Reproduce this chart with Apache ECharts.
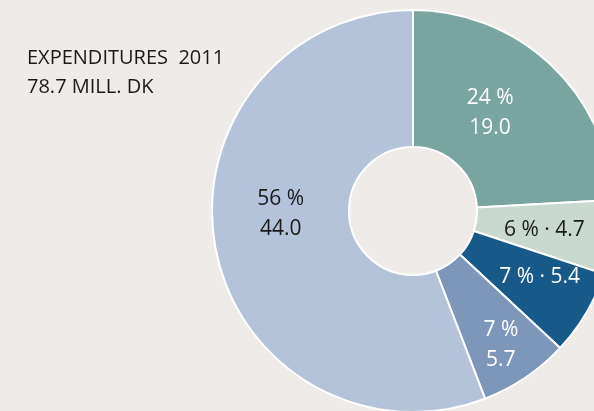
<!DOCTYPE html>
<html>
<head>
<meta charset="utf-8">
<script src="https://cdn.jsdelivr.net/npm/echarts@6/dist/echarts.min.js"></script>
<style>
  html, body { margin: 0; padding: 0; background: #eeebe8; }
  #chart { width: 594px; height: 411px; }
</style>
</head>
<body>
<div id="chart"></div>
<script>
// data
const titleLines = ['EXPENDITURES  2011', '78.7 MILL. DK'];
const values = [19.0, 4.7, 5.4, 5.7, 44.0];
const percents = [24, 6, 7, 7, 56];
const colors = ['#78a5a0', '#cad9cf', '#175988', '#7d97bb', '#b4c3d9'];
const labelColors = ['#fff', '#1a1a1a', '#fff', '#fff', '#1a1a1a'];
const oneLine = [false, true, true, false, false];
// nudges for the inside labels
const labelNudge = [[-16, 0], [-3, 1], [10, -3], [12, 22], [1, -22]];

const myChart = echarts.init(document.getElementById('chart'));

const pieData = values.map((v, i) => ({
  value: v,
  itemStyle: { color: colors[i] },
  label: {
    color: labelColors[i],
    formatter: oneLine[i] ? percents[i] + ' % · ' + v.toFixed(1) : percents[i] + ' %\n' + v.toFixed(1)
  }
}));

const option = {
  backgroundColor: '#eeebe8',
  animation: false,
  title: {
    text: titleLines.join('\n'),
    left: 22,
    top: 39,
    textStyle: {
      fontFamily: 'Open Sans',
      fontWeight: 'normal',
      fontSize: 20,
      lineHeight: 29,
      color: '#1a1a1a'
    }
  },
  series: [
    {
      type: 'pie',
      center: [413, 211],
      radius: [64, 201],
      startAngle: 90,
      clockwise: true,
      itemStyle: { borderColor: '#fff', borderWidth: 2 },
      label: {
        show: true,
        position: 'inside',
        fontFamily: 'Open Sans',
        fontSize: 21,
        lineHeight: 30
      },
      labelLayout: (p) => ({ dx: labelNudge[p.dataIndex][0], dy: labelNudge[p.dataIndex][1] }),
      emphasis: { disabled: true },
      data: pieData
    }
  ]
};

option && myChart.setOption(option);
</script>
</body>
</html>
